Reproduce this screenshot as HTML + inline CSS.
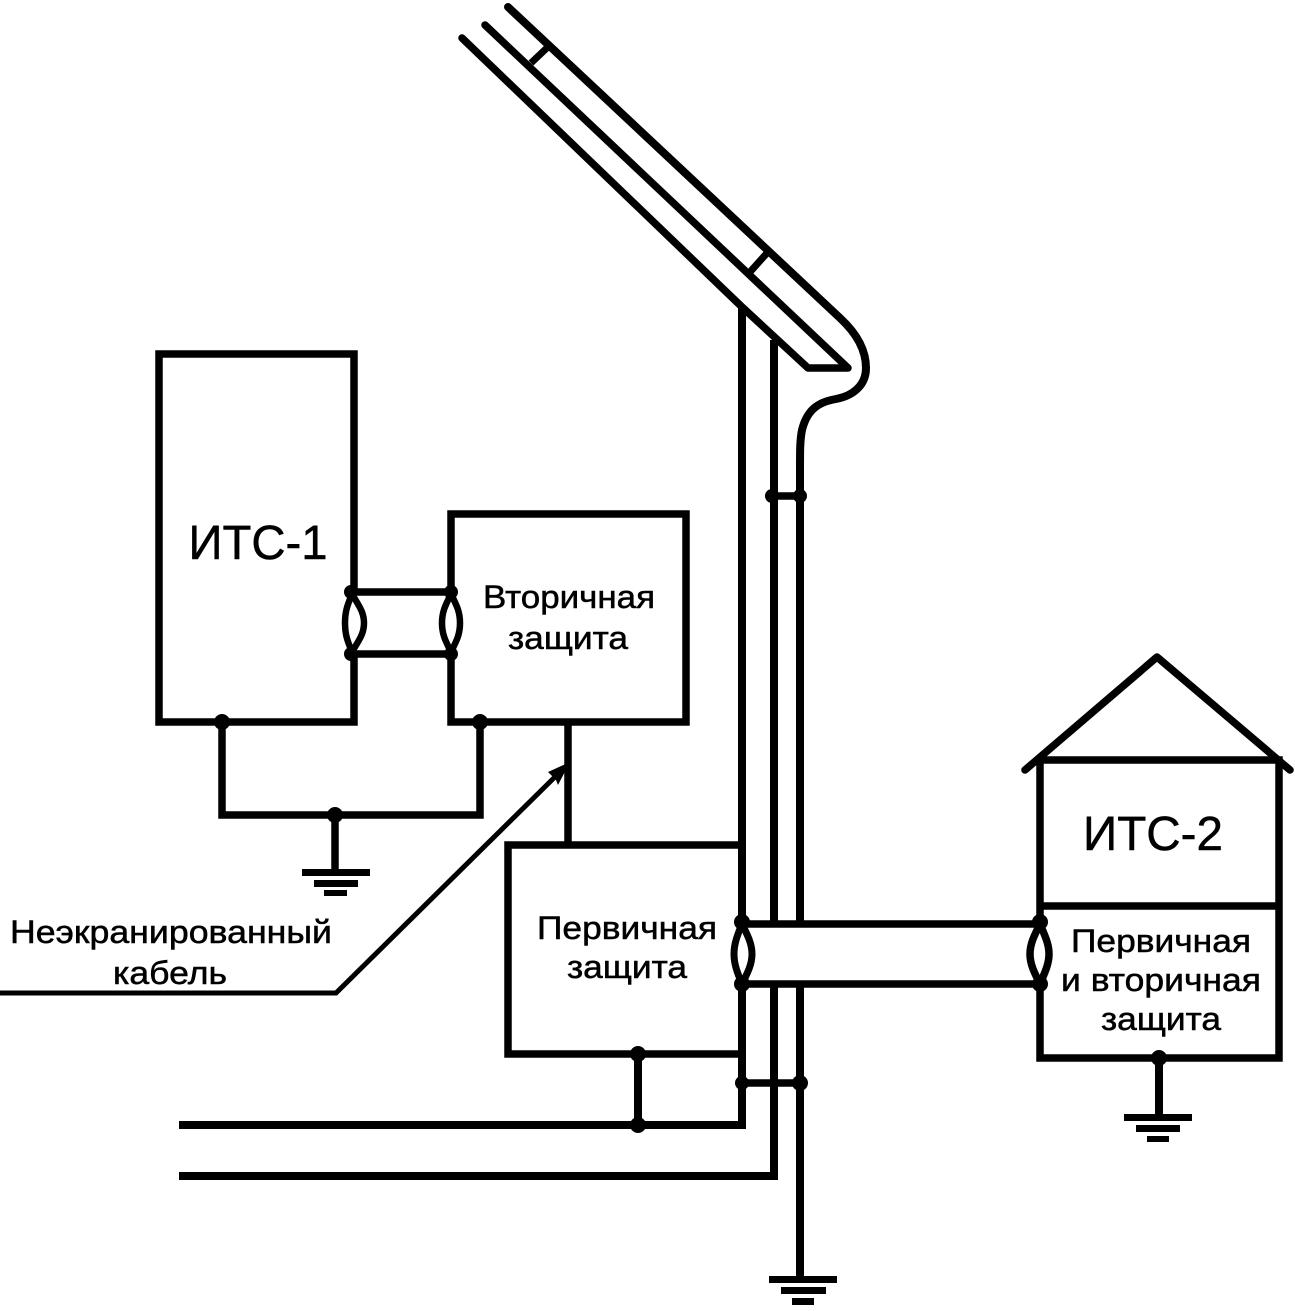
<!DOCTYPE html>
<html><head><meta charset="utf-8">
<style>html,body{margin:0;padding:0;background:#fff}svg{display:block}
text{font-family:"Liberation Sans",sans-serif;fill:#000;stroke:#000;stroke-width:.5;text-anchor:middle}</style></head>
<body>
<svg width="1295" height="1311" viewBox="0 0 1295 1311" xmlns="http://www.w3.org/2000/svg">
<g fill="none" stroke="#000" stroke-width="7.5" stroke-linejoin="miter">
<!-- roof cable -->
<path stroke-linecap="round" stroke-linejoin="round" d="M462 38L742 307L808 368H848L485 25"/>
<path stroke-linecap="round" stroke-width="8" d="M508 7L840 318Q866 342 866 368C866 386 852 396 836 399C818 402 807 410 802 430C800 440 800 450 800 470V1275"/>
<path stroke-width="7" d="M531 63L550 45M750 272L767 253"/>
<!-- verticals -->
<path stroke-width="8" d="M742 306V1129M774 340V1180"/>
<!-- boxes -->
<rect x="159" y="354" width="195" height="368"/>
<rect x="451" y="514" width="235" height="208"/>
<path d="M742 845H508V1054H742"/>
<path d="M1040 760H1279V1058H1040ZM1040 906H1279"/>
<path stroke-linecap="round" stroke-linejoin="round" d="M1025 770L1157 657L1290 770"/>
<!-- links -->
<path d="M222 722V815H480V722M335 815V872M568 722V845"/>
<path d="M742 1083H800"/>
<path d="M774 496H800"/>
<path stroke-width="8" d="M1159 1058V1116M638 1054V1125M179 1125H746M179 1176H778"/>
<!-- leaders -->
<path stroke-width="5" d="M0 993H336L562 770"/>
<!-- cable bands: white interior hides crossing lines -->
<path fill="#fff" stroke="none" d="M742 924H1040V984H742Z"/>
<path fill="#fff" stroke="none" d="M352 592H451V654H352Z"/>
<path d="M351 592H451M351 654H451"/>
<path d="M742 924H1040M742 984H1040"/>
<!-- loops -->
<path fill="#fff" stroke-width="6.5" d="M352 594C347 606 345 612 345 623C345 634 347 640 352 652C359 640 364 634 364 623C364 612 359 606 352 594Z"/>
<path fill="#fff" stroke-width="6.5" d="M451 594C445 606 442 612 442 623C442 634 445 640 451 652C457 640 460 634 460 623C460 612 457 606 451 594Z"/>
<path fill="#fff" stroke-width="7" d="M742 924C737 936 734 944 734 954C734 964 737 972 742 984C748 972 752 964 752 954C752 944 748 936 742 924Z"/>
<path fill="#fff" stroke-width="7.5" d="M1040 924C1034 936 1030 944 1030 954C1030 964 1034 972 1040 984C1045 972 1049 964 1049 954C1049 944 1045 936 1040 924Z"/>
</g>
<!-- arrowhead -->
<path d="M570 762L548 772L556 780L558 785Z" fill="#000"/>
<!-- dots -->
<g fill="#000">
<circle cx="222" cy="722" r="8"/><circle cx="480" cy="722" r="8"/><circle cx="335" cy="815" r="8"/>
<circle cx="351" cy="592" r="7"/><circle cx="351" cy="654" r="7"/><circle cx="451" cy="592" r="7"/><circle cx="451" cy="654" r="7"/>
<circle cx="742" cy="922" r="8"/><circle cx="742" cy="984" r="8"/><circle cx="1040" cy="922" r="8"/><circle cx="1040" cy="984" r="8"/>
<circle cx="772" cy="496" r="7"/><circle cx="800" cy="496" r="7"/>
<circle cx="742" cy="1083" r="7"/><circle cx="800" cy="1083" r="8"/>
<circle cx="638" cy="1054" r="8"/><circle cx="638" cy="1125" r="8"/><circle cx="1159" cy="1058" r="8"/>
<!-- grounds -->
<rect x="302" y="869" width="68" height="7"/><rect x="314" y="880" width="44" height="7"/><rect x="324" y="890" width="23" height="6"/>
<rect x="769" y="1276" width="68" height="7"/><rect x="781" y="1287" width="45" height="7"/><rect x="792" y="1298" width="22" height="7"/>
<rect x="1124" y="1114" width="68" height="7"/><rect x="1136" y="1125" width="44" height="7"/><rect x="1147" y="1136" width="22" height="6"/>
</g>
<text x="258" y="559" font-size="48" textLength="139" lengthAdjust="spacingAndGlyphs">ИТС-1</text>
<text x="1153" y="850" font-size="48" textLength="140" lengthAdjust="spacingAndGlyphs">ИТС-2</text>
<text x="569" y="608" font-size="32" textLength="172" lengthAdjust="spacingAndGlyphs">Вторичная</text>
<text x="568" y="649" font-size="32" textLength="120" lengthAdjust="spacingAndGlyphs">защита</text>
<text x="627" y="939" font-size="32" textLength="180" lengthAdjust="spacingAndGlyphs">Первичная</text>
<text x="627" y="978" font-size="32" textLength="120" lengthAdjust="spacingAndGlyphs">защита</text>
<text x="1161" y="952" font-size="32" textLength="180" lengthAdjust="spacingAndGlyphs">Первичная</text>
<text x="1161" y="991" font-size="32" textLength="200" lengthAdjust="spacingAndGlyphs">и вторичная</text>
<text x="1161" y="1030" font-size="32" textLength="120" lengthAdjust="spacingAndGlyphs">защита</text>
<text x="171" y="943" font-size="32" textLength="322" lengthAdjust="spacingAndGlyphs">Неэкранированный</text>
<text x="170" y="984" font-size="32" textLength="114" lengthAdjust="spacingAndGlyphs">кабель</text>
</svg>
</body></html>
